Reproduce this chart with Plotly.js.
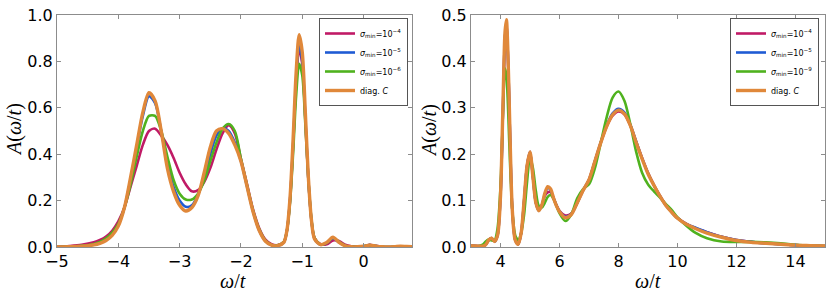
<!DOCTYPE html>
<html>
<head>
<meta charset="utf-8">
<script src="https://cdn.plot.ly/plotly-3.0.1.min.js"></script>
<style>html,body{margin:0;padding:0;background:#fff;}#chart{width:830px;height:297px;}</style>
</head>
<body>
<div id="chart"></div>
<script>
// ---------- Data ----------
const xLeft = [-5.0,-4.8,-4.6,-4.4,-4.3,-4.2,-4.1,-4.0,-3.9,-3.8,-3.7,-3.6,-3.5,-3.4,-3.3,-3.2,-3.1,-3.0,-2.9,-2.8,-2.7,-2.6,-2.5,-2.4,-2.3,-2.2,-2.1,-2.0,-1.9,-1.8,-1.7,-1.6,-1.5,-1.4,-1.3,-1.25,-1.2,-1.15,-1.1,-1.05,-1.0,-0.95,-0.9,-0.85,-0.8,-0.7,-0.6,-0.5,-0.4,-0.3,-0.2,-0.1,0.0,0.1,0.2,0.3,0.4,0.5,0.6,0.7,0.8];

const leftSigma4 = [0.001,0.004,0.009,0.02,0.03,0.045,0.07,0.11,0.17,0.26,0.35,0.44,0.50,0.51,0.48,0.44,0.385,0.32,0.27,0.24,0.245,0.28,0.34,0.42,0.49,0.525,0.49,0.38,0.27,0.16,0.08,0.032,0.012,0.008,0.022,0.07,0.20,0.43,0.70,0.855,0.79,0.55,0.29,0.115,0.04,0.012,0.012,0.028,0.026,0.01,0.003,0.001,0.003,0.009,0.005,0.001,0.0,0.001,0.003,0.002,0.001];
const leftSigma5 = [0.0,0.001,0.004,0.01,0.017,0.03,0.054,0.095,0.17,0.29,0.43,0.565,0.65,0.62,0.50,0.36,0.26,0.20,0.173,0.18,0.225,0.30,0.40,0.48,0.512,0.50,0.45,0.37,0.26,0.15,0.07,0.025,0.008,0.006,0.02,0.07,0.20,0.44,0.72,0.875,0.80,0.56,0.29,0.115,0.035,0.01,0.018,0.038,0.02,0.006,0.001,0.001,0.003,0.008,0.004,0.001,0.0,0.001,0.003,0.002,0.001];
const leftSigma6 = [0.0,0.002,0.005,0.013,0.022,0.037,0.062,0.10,0.17,0.27,0.39,0.50,0.565,0.565,0.50,0.39,0.29,0.23,0.205,0.205,0.23,0.285,0.37,0.45,0.51,0.53,0.50,0.38,0.265,0.155,0.075,0.028,0.009,0.007,0.022,0.07,0.19,0.40,0.65,0.79,0.74,0.53,0.29,0.12,0.04,0.01,0.018,0.04,0.022,0.006,0.001,0.001,0.003,0.008,0.004,0.001,0.0,0.001,0.003,0.002,0.001];
const leftDiagC = [0.0,0.001,0.003,0.009,0.016,0.028,0.05,0.09,0.17,0.30,0.44,0.58,0.665,0.63,0.50,0.34,0.24,0.18,0.155,0.17,0.22,0.32,0.43,0.50,0.51,0.49,0.44,0.37,0.26,0.15,0.07,0.025,0.008,0.006,0.02,0.072,0.21,0.46,0.75,0.915,0.84,0.58,0.30,0.115,0.035,0.01,0.02,0.042,0.02,0.005,0.001,0.001,0.003,0.008,0.004,0.001,0.0,0.001,0.003,0.002,0.001];

const xRight = [3.0,3.2,3.4,3.5,3.6,3.7,3.8,3.9,4.0,4.05,4.1,4.15,4.2,4.25,4.3,4.35,4.4,4.5,4.6,4.7,4.8,4.9,5.0,5.1,5.2,5.3,5.4,5.5,5.6,5.7,5.8,5.9,6.0,6.2,6.4,6.6,6.8,7.0,7.2,7.4,7.6,7.8,8.0,8.2,8.4,8.6,8.8,9.0,9.2,9.4,9.6,9.8,10.0,10.3,10.6,11.0,11.5,12.0,12.5,13.0,13.5,14.0,14.5,15.0];

const rightSigma4 = [0.003,0.002,0.002,0.005,0.015,0.019,0.012,0.025,0.11,0.21,0.34,0.45,0.48,0.415,0.30,0.17,0.08,0.015,0.006,0.03,0.10,0.175,0.205,0.15,0.095,0.08,0.09,0.11,0.118,0.118,0.105,0.09,0.078,0.068,0.072,0.095,0.122,0.145,0.185,0.225,0.26,0.283,0.292,0.286,0.262,0.227,0.192,0.16,0.134,0.111,0.091,0.076,0.063,0.05,0.041,0.032,0.022,0.015,0.011,0.008,0.006,0.004,0.003,0.002];
const rightSigma5 = [0.003,0.002,0.002,0.005,0.015,0.019,0.012,0.025,0.11,0.21,0.34,0.45,0.48,0.415,0.30,0.17,0.08,0.015,0.006,0.03,0.10,0.175,0.205,0.15,0.095,0.078,0.09,0.113,0.128,0.122,0.105,0.089,0.077,0.065,0.071,0.095,0.122,0.145,0.185,0.226,0.262,0.288,0.298,0.29,0.264,0.227,0.191,0.159,0.133,0.11,0.09,0.075,0.062,0.05,0.042,0.032,0.022,0.015,0.011,0.008,0.006,0.004,0.003,0.002];
const rightSigma9 = [0.0,0.001,0.005,0.012,0.016,0.014,0.014,0.04,0.13,0.22,0.32,0.385,0.37,0.31,0.22,0.14,0.08,0.025,0.015,0.03,0.07,0.14,0.195,0.17,0.12,0.088,0.085,0.095,0.108,0.112,0.103,0.088,0.073,0.056,0.07,0.105,0.125,0.135,0.17,0.225,0.28,0.322,0.335,0.315,0.265,0.205,0.16,0.135,0.12,0.107,0.093,0.08,0.064,0.046,0.031,0.019,0.012,0.011,0.011,0.01,0.008,0.005,0.003,0.002];
const rightDiagC = [0.003,0.002,0.002,0.005,0.015,0.019,0.012,0.025,0.11,0.22,0.35,0.46,0.49,0.42,0.30,0.17,0.08,0.015,0.006,0.03,0.10,0.175,0.205,0.15,0.095,0.078,0.09,0.115,0.13,0.125,0.105,0.088,0.076,0.063,0.07,0.095,0.122,0.145,0.185,0.225,0.26,0.285,0.295,0.287,0.262,0.225,0.19,0.158,0.133,0.11,0.09,0.075,0.062,0.049,0.04,0.03,0.021,0.014,0.01,0.008,0.006,0.004,0.003,0.002];

const leftLabels = ['<i>σ</i><sub>min</sub>=10<sup>−4</sup>','<i>σ</i><sub>min</sub>=10<sup>−5</sup>','<i>σ</i><sub>min</sub>=10<sup>−6</sup>','diag. <i>C</i>'];
const rightLabels = ['<i>σ</i><sub>min</sub>=10<sup>−4</sup>','<i>σ</i><sub>min</sub>=10<sup>−5</sup>','<i>σ</i><sub>min</sub>=10<sup>−9</sup>','diag. <i>C</i>'];

// ---------- Styles ----------
const colors = ['#c01a66','#1f5bd4','#4fb21e','#e0883a'];
const widths = [2.6,2.6,2.6,3.4];

const leftSeries = [leftSigma4,leftSigma5,leftSigma6,leftDiagC];
const rightSeries = [rightSigma4,rightSigma5,rightSigma9,rightDiagC];

const traces = [];
leftSeries.forEach((ys,i)=>{
  traces.push({x:xLeft,y:ys,type:'scatter',mode:'lines',name:leftLabels[i],
    line:{color:colors[i],width:widths[i],shape:'spline',smoothing:0.8},
    xaxis:'x',yaxis:'y',legend:'legend'});
});
rightSeries.forEach((ys,i)=>{
  traces.push({x:xRight,y:ys,type:'scatter',mode:'lines',name:rightLabels[i],
    line:{color:colors[i],width:widths[i],shape:'spline',smoothing:0.8},
    xaxis:'x2',yaxis:'y2',legend:'legend2'});
});

const W=830,H=297;
const axCommon = {showgrid:false,zeroline:false,showline:true,mirror:'ticks',linecolor:'#8c8c8c',linewidth:1,
  ticks:'inside',ticklen:4,tickcolor:'#8c8c8c',tickfont:{family:'DejaVu Sans',size:16,color:'#000'}};
const yDom=[1-247/H,1-15/H];
const tf = {family:'Liberation Serif',size:20,color:'#000'};
const legendCommon = {bgcolor:'#fff',bordercolor:'#555',borderwidth:1,font:{family:'DejaVu Sans',size:8,color:'#000'},
  xanchor:'right',yanchor:'top',tracegroupgap:0};

const layout = {
  width:W,height:H,margin:{l:0,r:0,t:0,b:0},paper_bgcolor:'#fff',plot_bgcolor:'#fff',showlegend:true,
  xaxis:Object.assign({},axCommon,{domain:[57/W,412/W],range:[-5,0.79],dtick:1,tick0:0,anchor:'y'}),
  yaxis:Object.assign({},axCommon,{domain:yDom,range:[0,1.0],dtick:0.2,tickformat:'.1f',anchor:'x'}),
  xaxis2:Object.assign({},axCommon,{domain:[471/W,825/W],range:[3,15],dtick:2,tick0:0,anchor:'y2'}),
  yaxis2:Object.assign({},axCommon,{domain:yDom,range:[0,0.5],dtick:0.1,tickformat:'.1f',anchor:'x2'}),
  legend:Object.assign({},legendCommon,{x:408/W,y:1-18/H}),
  legend2:Object.assign({},legendCommon,{x:819/W,y:1-18/H}),
  annotations:[
    {text:'<i>ω</i>/<i>t</i>',xref:'paper',yref:'paper',x:233/W,y:1-281/H,showarrow:false,font:tf,xanchor:'center',yanchor:'middle'},
    {text:'<i>ω</i>/<i>t</i>',xref:'paper',yref:'paper',x:648/W,y:1-281/H,showarrow:false,font:tf,xanchor:'center',yanchor:'middle'},
    {text:'<i>A</i>(<i>ω</i>/<i>t</i>)',xref:'paper',yref:'paper',x:14/W,y:1-130/H,showarrow:false,font:tf,textangle:-90,xanchor:'center',yanchor:'middle'},
    {text:'<i>A</i>(<i>ω</i>/<i>t</i>)',xref:'paper',yref:'paper',x:429/W,y:1-130/H,showarrow:false,font:tf,textangle:-90,xanchor:'center',yanchor:'middle'}
  ]
};
Plotly.newPlot('chart',traces,layout,{displayModeBar:false,staticPlot:true});
</script>
</body>
</html>
